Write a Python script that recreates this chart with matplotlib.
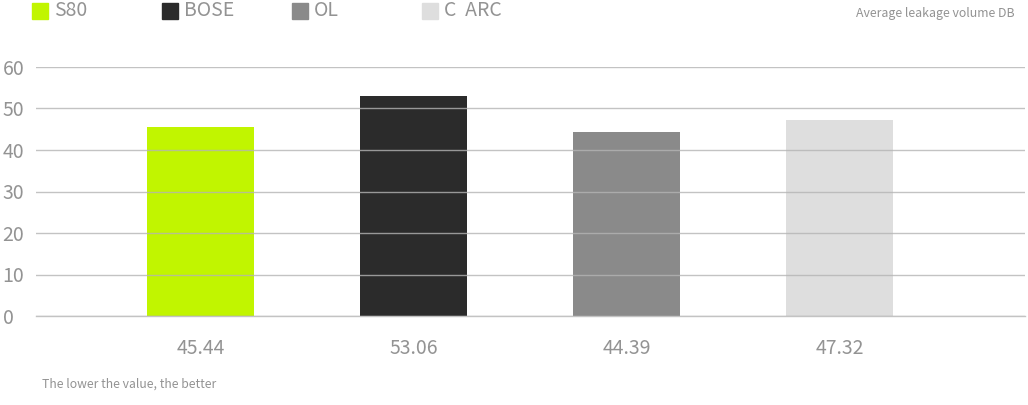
import matplotlib.pyplot as plt
from matplotlib.patches import Rectangle

plt.rcParams['font.family'] = ['Noto Sans CJK KR', 'DejaVu Sans']

# data
brands = ['S80', 'BOSE', 'OL', 'C  ARC']
values = [45.44, 53.06, 44.39, 47.32]
value_labels = ['45.44', '53.06', '44.39', '47.32']
y_ticks = [0, 10, 20, 30, 40, 50, 60]

colors = ['#c1f500', '#2b2b2b', '#8a8a8a', '#dedede']
text_color = '#939393'

W, H = 1028, 405
fig = plt.figure(figsize=(W / 100, H / 100), dpi=100)
ax = fig.add_axes([36 / W, 1 - 316 / H, (1025 - 36) / W, (316 - 67) / H])

x = list(range(len(brands)))
ax.bar(x, values, width=0.5, color=colors, zorder=1)

ax.set_xlim(-0.772, 3.871)
ax.set_ylim(0, 60)
ax.set_yticks(y_ticks)
ax.yaxis.grid(True, color='#b4b4b4', linewidth=1, alpha=0.8, zorder=2)
ax.axhline(0, color='#b4b4b4', linewidth=1, alpha=0.8, zorder=2, clip_on=False)
ax.set_axisbelow(False)
ax.set_xticks([])
ax.tick_params(axis='y', length=0, labelsize=14, labelcolor=text_color)
for lbl in ax.get_yticklabels():
    lbl.set_horizontalalignment('left')
ax.yaxis.set_tick_params(pad=24)
for s in ax.spines.values():
    s.set_visible(False)

# value labels under bars
for xi, lab in zip(x, value_labels):
    ax.annotate(lab, (xi, 0), xytext=(0, -33), textcoords='offset pixels',
                ha='center', va='center', fontsize=14, color=text_color)

# manual legend across the top
for i, (b, c) in enumerate(zip(brands, colors)):
    x0 = 32 + i * 130
    fig.patches.append(Rectangle((x0 / W, 1 - 19 / H), 16 / W, 16 / H,
                                 transform=fig.transFigure, color=c))
    fig.text((x0 + 22) / W, 1 - 11 / H, b, ha='left', va='center',
             fontsize=14, color=text_color)

fig.text(1015 / W, 1 - 14 / H, 'Average leakage volume DB', ha='right',
         va='center', fontsize=8.9, color=text_color)
fig.text(42 / W, 1 - 384 / H, 'The lower the value, the better', ha='left',
         va='center', fontsize=8.8, color=text_color)

fig.savefig('out.png', dpi=100)
